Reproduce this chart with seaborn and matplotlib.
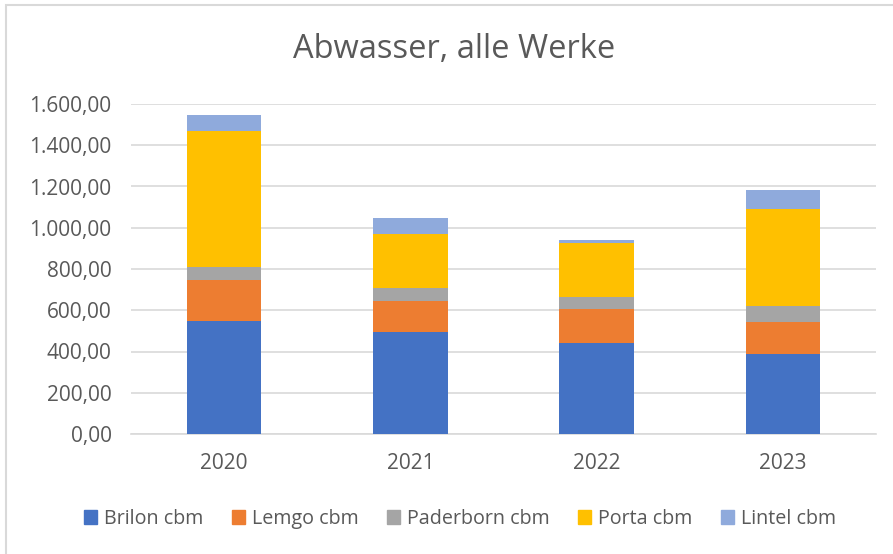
import matplotlib
matplotlib.use("Agg")
import matplotlib.pyplot as plt
import matplotlib.patches as mpatches
import numpy as np
import pandas as pd
import seaborn as sns

# data
years = ["2020", "2021", "2022", "2023"]
brilon = [546, 496, 443, 388]
lemgo = [199, 150, 161, 156]
paderborn = [66, 63, 62, 78]
porta = [659, 262, 260, 469]
lintel = [77, 75, 16, 92]

series = ["Brilon cbm", "Lemgo cbm", "Paderborn cbm", "Porta cbm", "Lintel cbm"]
colors = ["#4472C4", "#ED7D31", "#A5A5A5", "#FFC000", "#8FAADC"]
y_ticks = [0, 200, 400, 600, 800, 1000, 1200, 1400, 1600]

df = pd.DataFrame({"year": years, series[0]: brilon, series[1]: lemgo,
                   series[2]: paderborn, series[3]: porta, series[4]: lintel})

sns.set_theme(style="white")
plt.rcParams["font.family"] = ["Open Sans", "DejaVu Sans"]
text_col = "#595959"
grid_col = "#D9D9D9"

fig = plt.figure(figsize=(8.93, 5.54), dpi=100)
ax = fig.add_axes([131 / 893, 120 / 554, 745 / 893, 330 / 554])

# stacked bars: draw cumulative totals from the top down
cum = df[series].cumsum(axis=1)
for name, col in reversed(list(zip(series, colors))):
    sns.barplot(x=df["year"], y=cum[name], color=col, width=0.4,
                saturation=1, linewidth=0, ax=ax, zorder=3)

ax.set_ylim(0, 1600)
ax.set_xlim(-0.5, 3.5)
ax.set_yticks(y_ticks)
ax.set_yticklabels([f"{v:,.2f}".replace(",", "X").replace(".", ",").replace("X", ".")
                    for v in y_ticks])
ax.grid(axis="y", color=grid_col, linewidth=1.2, zorder=0)
for s in ["left", "right", "top"]:
    ax.spines[s].set_visible(False)
ax.spines["bottom"].set_color(grid_col)
ax.spines["bottom"].set_linewidth(1.2)
ax.tick_params(axis="both", length=0, labelsize=15, colors=text_col)
ax.tick_params(axis="y", pad=14)
ax.tick_params(axis="x", pad=14)
ax.set_xlabel("")
ax.set_ylabel("")

fig.text(454 / 893, 1 - 49 / 554, "Abwasser, alle Werke", ha="center", va="center",
         fontsize=23.5, color=text_col)

handles = [mpatches.Patch(color=c, label=s) for s, c in zip(series, colors)]
fig.legend(handles=handles, loc="center", bbox_to_anchor=(460 / 893, 1 - 519 / 554),
           ncol=5, frameon=False, fontsize=14.2, labelcolor=text_col,
           handlelength=0.65, handleheight=0.65, handletextpad=0.35, columnspacing=1.45)

# chart area border (Excel style)
fig.patches.append(mpatches.Rectangle((6 / 893, -0.1), 1.2, 1.1 - 5 / 554,
                                      transform=fig.transFigure, fill=False,
                                      edgecolor=grid_col, linewidth=1.5))

fig.savefig("out.png", dpi=100)
